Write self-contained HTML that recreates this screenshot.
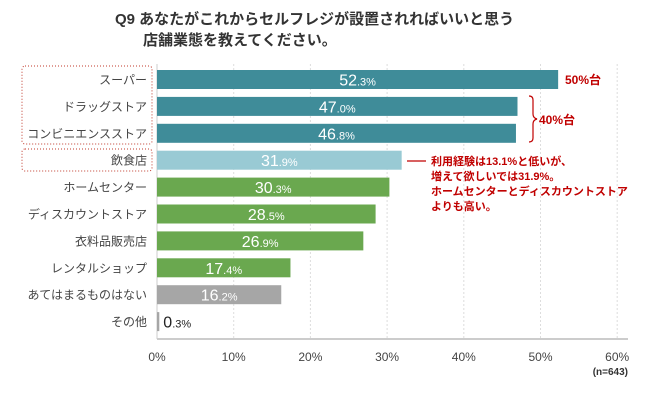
<!DOCTYPE html>
<html><head><meta charset="utf-8"><style>
body{margin:0;background:#fff;font-family:"Liberation Sans","Noto Sans CJK JP",sans-serif;}
svg text{font-family:"Liberation Sans","Noto Sans CJK JP",sans-serif;}
</style></head><body>
<svg id="c" width="650" height="401" viewBox="0 0 650 401">
<text x="115" y="24" font-size="15" font-weight="bold" fill="#333">Q9  あなたがこれからセルフレジが設置されればいいと思う</text>
<text x="143" y="45" font-size="15" font-weight="bold" fill="#333">店舗業態を教えてください。</text>
<g id="grid"></g><g id="bars"></g>
<rect x="22" y="66" width="130" height="78" fill="none" stroke="#c0392b" stroke-dasharray="1,2" rx="3"/>
<rect x="22" y="149" width="130" height="22" fill="none" stroke="#c0392b" stroke-dasharray="1,2" rx="3"/>
<text x="565" y="84" font-size="12" font-weight="bold" fill="#c00000">50%台</text>
<path d="M529 96 q4 0 4 4 v14 q0 4 4 5 q-4 1 -4 5 v14 q0 4 -4 4" fill="none" stroke="#c00000" stroke-width="1.2"/>
<text x="539" y="124" font-size="12" font-weight="bold" fill="#c00000">40%台</text>
<line x1="407" y1="161" x2="426" y2="161" stroke="#c00000" stroke-width="1.2"/>
<g font-size="11" font-weight="bold" fill="#c00000">
<text x="431" y="165">利用経験は13.1%と低いが、</text>
<text x="431" y="180">増えて欲しいでは31.9%。</text>
<text x="431" y="195">ホームセンターとディスカウントストア</text>
<text x="431" y="210">よりも高い。</text></g>
<text x="628" y="375" font-size="10" font-weight="bold" fill="#333" text-anchor="end">(n=643)</text>
</svg>
<script>
const categories=["スーパー","ドラッグストア","コンビニエンスストア","飲食店","ホームセンター","ディスカウントストア","衣料品販売店","レンタルショップ","あてはまるものはない","その他"];
const values=[52.3,47.0,46.8,31.9,30.3,28.5,26.9,17.4,16.2,0.3];
const colors=["#3f8c99","#3f8c99","#3f8c99","#99cad4","#6aa84f","#6aa84f","#6aa84f","#6aa84f","#a6a6a6","#a6a6a6"];
const ticks=[0,10,20,30,40,50,60];
const NS="http://www.w3.org/2000/svg";
const x0=157,sc=7.67,top0=70,pitch=26.9,bh=19;
const X=v=>x0+v*sc, Y=i=>top0+i*pitch;
function mk(t,a,p){const e=document.createElementNS(NS,t);for(const k in a)e.setAttribute(k,a[k]);p.appendChild(e);return e;}
const g=document.getElementById('grid'),b=document.getElementById('bars');
ticks.forEach(t=>{
 if(t>0){const l=mk('line',{x1:X(t),x2:X(t),y1:64,y2:338,stroke:'#ddd','stroke-dasharray':'2,2'},g);
 
 }
 const tx=mk('text',{x:X(t),y:361,'font-size':12,fill:'#444','text-anchor':'middle'},g);
 tx.textContent=t+'%';
 
 
});
const ax=mk('line',{x1:x0,x2:628,y1:339,y2:339,stroke:'#ccc','stroke-width':2},g);


const ay=mk('line',{x1:x0,x2:x0,y1:64,y2:339,stroke:'#ccc'},g);


categories.forEach((c,i)=>{
 const y=Y(i);
 const r=mk('rect',{x:x0,y:y,width:Math.max(X(values[i])-x0,1.5),height:bh,fill:colors[i]},b);
 
 
 const l=mk('text',{x:147,y:y+14,'font-size':12,fill:'#444','text-anchor':'end'},b);
 l.textContent=c;
 
 
 const s=values[i].toFixed(1).split('.');
 const small=values[i]<5;
 const v=mk('text',{x:small?X(values[i])+4:(x0+X(values[i]))/2,y:y+15.5,fill:small?'#222':'#fff','text-anchor':small?'start':'middle'},b);
 v.innerHTML='<tspan font-size="16">'+s[0]+'</tspan><tspan font-size="11">.'+s[1]+'%</tspan>';
 
 
});
</script>
</body></html>
